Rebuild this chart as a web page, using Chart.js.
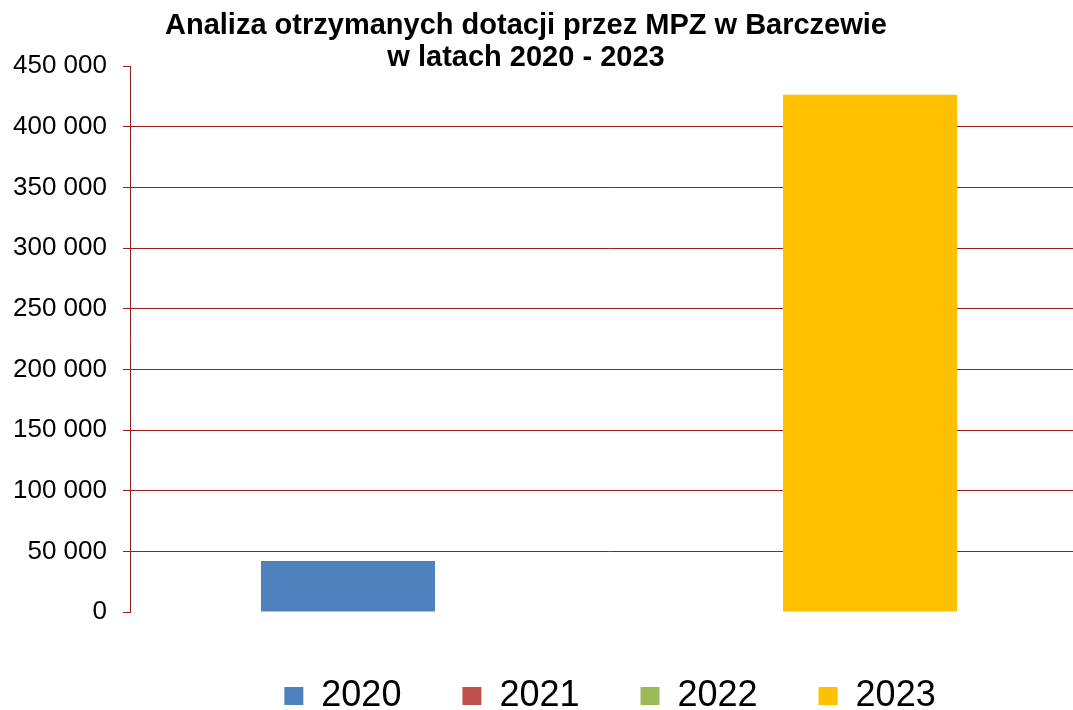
<!DOCTYPE html>
<html>
<head>
<meta charset="utf-8">
<script src="https://cdn.jsdelivr.net/npm/chart.js@4"></script>
<style>
  body { margin: 0; background: #fff; }
  #wrap { width: 1073px; height: 710px; overflow: hidden; }
</style>
</head>
<body>
<div id="wrap"><canvas id="chart" width="1088" height="710"></canvas></div>
<script>
// data
const categories = [''];
const seriesNames = ['2020', '2021', '2022', '2023'];
const values2020 = [42000];
const values2021 = [0];
const values2022 = [0];
const values2023 = [426500];
const yMin = 0;
const yMax = 450000;
const yStep = 50000;

const seriesValues = [values2020, values2021, values2022, values2023];
const seriesColors = ['#4F81BD', '#C0504D', '#9BBB59', '#FFC000'];
const gridRed = '#9e1b1e';
const family = '"Liberation Sans", Arial, sans-serif';

// "450 000" style labels
function fmt(v) {
    return String(v).replace(/\B(?=(\d{3})+(?!\d))/g, ' ');
}

// title and legend are not centred on the canvas in the original
function shift(box, dx, dy) {
    box.left += dx; box.right += dx;
    box.top += dy; box.bottom += dy;
}
const nudge = {
    id: 'nudge',
    afterLayout(chart) {
        shift(chart.titleBlock, -18, 0);
        shift(chart.legend, 66, 5);
    }
};

new Chart(document.getElementById('chart'), {
    type: 'bar',
    data: {
        labels: categories,
        datasets: seriesNames.map((name, i) => ({
            label: name,
            data: seriesValues[i],
            backgroundColor: seriesColors[i],
            borderWidth: 0
        }))
    },
    options: {
        responsive: false,
        animation: false,
        layout: { padding: { left: 0, right: 0, top: 0, bottom: -9 } },
        categoryPercentage: 696 / 958,
        barPercentage: 1,
        scales: {
            x: { display: false },
            y: {
                min: yMin,
                max: yMax,
                afterFit(scale) { scale.width = 130; },
                border: { display: true, color: gridRed, width: 1 },
                grid: {
                    color: c => (c.tick && (c.tick.value === yMin || c.tick.value === yMax)) ? 'rgba(0,0,0,0)' : gridRed,
                    tickColor: gridRed,
                    tickLength: 7,
                    lineWidth: 1
                },
                ticks: {
                    stepSize: yStep,
                    padding: 16,
                    color: '#000',
                    font: { size: 26, family },
                    callback: v => fmt(v)
                }
            }
        },
        plugins: {
            title: {
                display: true,
                text: ['Analiza otrzymanych dotacji przez MPZ w Barczewie', 'w latach 2020 - 2023'],
                color: '#000',
                font: { size: 29, weight: 'bold', family, lineHeight: 1.1 },
                padding: { top: 10.5, bottom: -8 }
            },
            legend: {
                position: 'bottom',
                labels: {
                    boxWidth: 19,
                    boxHeight: 18,
                    padding: 61,
                    color: '#000',
                    font: { size: 36, family }
                }
            },
            tooltip: { enabled: false }
        }
    },
    plugins: [nudge]
});
</script>
</body>
</html>
